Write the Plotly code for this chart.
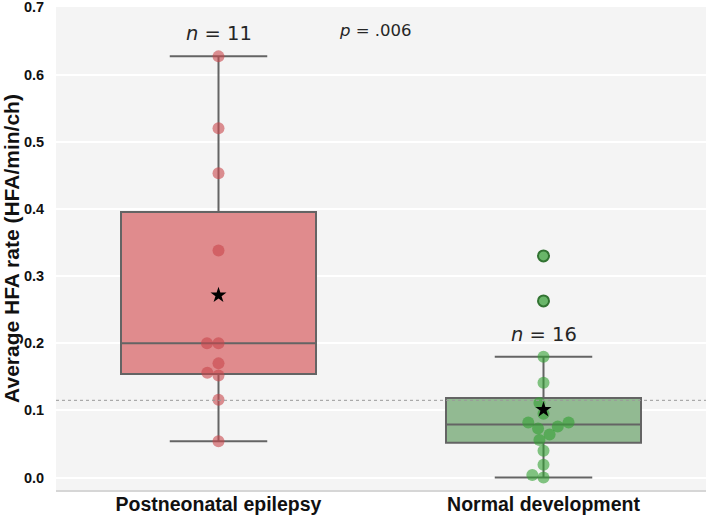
import math
import numpy as np
import plotly.graph_objects as go

# ---- data ----
categories = ["Postneonatal epilepsy", "Normal development"]
epilepsy_vals = [0.627, 0.520, 0.453, 0.338, 0.200, 0.200, 0.170, 0.156, 0.152, 0.116, 0.054]
normal_vals = [0.330, 0.263, 0.180, 0.141, 0.111, 0.095, 0.082, 0.082, 0.076, 0.073,
               0.064, 0.056, 0.040, 0.019, 0.004, 0.000]
threshold = 0.115
p_text = "<i>p</i> = .006"
p_pos = (0.483, 0.665)
y_ticks = [0.0, 0.1, 0.2, 0.3, 0.4, 0.5, 0.6, 0.7]

# ---- layout constants ----
W, H = 709, 521
M = dict(l=56, r=3, t=7, b=31)
XR = [-0.5, 1.5]
YR = [-0.0185, 0.7005]
plot_w = W - M["l"] - M["r"]
plot_h = H - M["t"] - M["b"]
xpx = plot_w / (XR[1] - XR[0])
ypx = plot_h / (YR[1] - YR[0])
DOT = 11.5  # swarm spacing in px

box_fill = ["rgb(224,139,141)", "rgb(146,186,146)"]
pt_col = ["rgba(200,70,75,0.6)", "rgba(50,160,50,0.6)"]


def swarm(values, d):
    vals = np.asarray(values, float)
    order = np.argsort(vals, kind="stable")
    placed = []
    offs = np.zeros(len(vals))
    for i in order:
        y = vals[i] * ypx
        cands = [0.0]
        for py, px in placed:
            dy = abs(y - py)
            if dy < d:
                dx = math.sqrt(d * d - dy * dy)
                cands += [px - dx, px + dx]
        cands.sort(key=lambda c: (abs(c), c))
        for c in cands:
            if all((c - px) ** 2 + (y - py) ** 2 >= d * d - 1e-6 for py, px in placed):
                offs[i] = c
                placed.append((y, c))
                break
    return offs / xpx


def stats(values):
    v = np.asarray(values, float)
    q1, med, q3 = np.percentile(v, [25, 50, 75])
    iqr = q3 - q1
    lo = v[v >= q1 - 1.5 * iqr].min()
    hi = v[v <= q3 + 1.5 * iqr].max()
    return q1, med, q3, lo, hi, v.mean()


fig = go.Figure()
groups = [epilepsy_vals, normal_vals]
for gi, vals in enumerate(groups):
    q1, med, q3, lo, hi, mean = stats(vals)
    fig.add_trace(go.Box(
        x=[gi], q1=[q1], median=[med], q3=[q3], lowerfence=[lo], upperfence=[hi],
        boxpoints=False, width=0.6, whiskerwidth=0.5,
        fillcolor=box_fill[gi], line=dict(color="#646464", width=2),
        showlegend=False, hoverinfo="skip"))

for gi, vals in enumerate(groups):
    q1, med, q3, lo, hi, mean = stats(vals)
    v = np.asarray(vals, float)
    offs = swarm(vals, DOT)
    inlier = (v >= lo) & (v <= hi)
    fig.add_trace(go.Scatter(
        x=(gi + offs)[inlier], y=v[inlier], mode="markers",
        marker=dict(size=12, color=pt_col[gi], line=dict(width=0)),
        showlegend=False, hoverinfo="skip"))
    if (~inlier).any():
        fig.add_trace(go.Scatter(
            x=(gi + offs)[~inlier], y=v[~inlier], mode="markers",
            marker=dict(size=11, color="rgb(105,182,105)",
                        line=dict(width=2, color="rgb(50,115,50)")),
            showlegend=False, hoverinfo="skip"))
    fig.add_trace(go.Scatter(
        x=[gi], y=[mean], mode="markers",
        marker=dict(symbol="star", size=12, color="black", line=dict(width=0)),
        showlegend=False, hoverinfo="skip"))
    fig.add_annotation(x=gi, y=hi, yshift=9, text=f"<i>n</i> = {len(vals)}",
                       showarrow=False, yanchor="bottom",
                       font=dict(family="DejaVu Sans", size=19.5, color="#262626"))

fig.add_annotation(x=p_pos[0], y=p_pos[1], text=p_text, showarrow=False,
                   yanchor="middle", font=dict(family="DejaVu Sans", size=16.5, color="#262626"))

fig.add_hline(y=threshold, line=dict(color="#9a9a9a", width=1, dash="dot"))

fig.update_layout(
    width=W, height=H, margin=M,
    paper_bgcolor="white", plot_bgcolor="#f4f4f4",
    font=dict(family="Liberation Sans", color="#1a1a1a"),
    xaxis=dict(range=XR, tickvals=[0, 1], ticktext=categories, automargin=False,
               tickfont=dict(size=19.5, family="Liberation Sans", weight="bold", color="#111"),
               showgrid=False, zeroline=False, showline=True, linecolor="#d6d6d6",
               linewidth=1.5, ticks="", ticklabelstandoff=-4, ticklabeloverflow="allow"),
    yaxis=dict(range=YR, tickvals=y_ticks, ticktext=[f"{t:.1f}" for t in y_ticks],
               automargin=False, ticklabeloverflow="allow",
               tickfont=dict(size=14.5, family="Liberation Sans", weight="bold", color="#111"),
               showgrid=True, gridcolor="white", gridwidth=1.5, zeroline=False,
               ticks="outside", ticklen=8, tickcolor="rgba(0,0,0,0)",
               title=dict(text="Average HFA rate (HFA/min/ch)", standoff=4,
                          font=dict(size=21, family="Liberation Sans", weight="bold",
                                    color="#111"))),
)

fig.write_html("out.html")
